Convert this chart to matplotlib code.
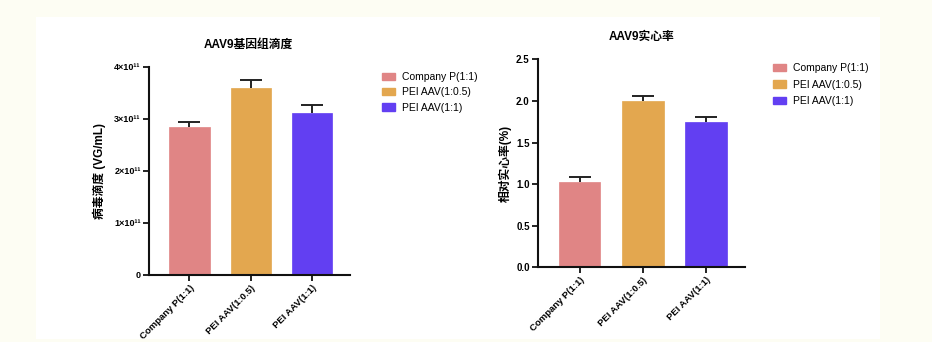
import matplotlib
matplotlib.use("Agg")
import matplotlib.pyplot as plt
from matplotlib.patches import Rectangle, Patch

plt.rcParams['font.family'] = ['Liberation Sans', 'Noto Sans CJK SC', 'DejaVu Sans']

categories = ["Company P(1:1)", "PEI AAV(1:0.5)", "PEI AAV(1:1)"]
colors = ["#e08585", "#e3a74f", "#623ff2"]

titer = [2.85e11, 3.59e11, 3.12e11]
titer_err = [0.10e11, 0.16e11, 0.14e11]
titer_ticks = [0, 1e11, 2e11, 3e11, 4e11]
titer_ticklabels = ["0", "1×10¹¹", "2×10¹¹", "3×10¹¹", "4×10¹¹"]

full = [1.02, 2.00, 1.75]
full_err = [0.07, 0.06, 0.06]
full_ticks = [0.0, 0.5, 1.0, 1.5, 2.0, 2.5]
full_ticklabels = ["0.0", "0.5", "1.0", "1.5", "2.0", "2.5"]

W, H = 932, 342
fig = plt.figure(figsize=(W / 100, H / 100), dpi=100)
fig.patch.set_facecolor("#fdfdf3")
fig.patches.append(Rectangle((36 / W, 3 / H), (880 - 36) / W, (325 - 3) / H,
                             transform=fig.transFigure, facecolor="white",
                             edgecolor="none", zorder=-10))


def panel(rect, vals, errs, ticks, ticklabels, ylim, title, ylabel, legend_xy, title_y,
          ytick_fs, labelpad, labelspacing):
    ax = fig.add_axes(rect)
    ax.set_zorder(5)
    ax.set_facecolor("none")
    x = list(range(len(categories)))
    ax.bar(x, vals, width=0.66, color=colors, edgecolor=colors, linewidth=0.5, zorder=2)
    _, caps, _ = ax.errorbar(x, vals, yerr=[[0] * len(errs), errs], fmt="none",
                             ecolor="#222222", elinewidth=1.4, capsize=8, capthick=1.4,
                             zorder=3)
    caps[0].set_visible(False)
    ax.set_xlim(-0.66, 2.62)
    ax.set_ylim(*ylim)
    ax.set_yticks(ticks)
    ax.set_yticklabels(ticklabels, fontsize=ytick_fs, fontweight="bold")
    ax.set_xticks(x)
    ax.set_xticklabels(categories, rotation=45, ha="right", rotation_mode="anchor",
                       fontsize=6.8, fontweight="bold")
    for s in ["top", "right"]:
        ax.spines[s].set_visible(False)
    for s in ["left", "bottom"]:
        ax.spines[s].set_linewidth(1.5)
        ax.spines[s].set_color("#111111")
    ax.tick_params(axis="both", width=1.3, length=4, color="#111111", pad=2)
    ax.set_ylabel(ylabel, fontsize=8.5, fontweight="bold", labelpad=labelpad)
    fig.text(title[1], title_y, title[0], ha="center", va="center", fontsize=8.5,
             fontweight="bold")
    handles = [Patch(facecolor=c, edgecolor=c) for c in colors]
    fig.legend(handles, categories, loc="upper left", bbox_to_anchor=legend_xy,
               frameon=False, fontsize=7.5, handlelength=1.2, handleheight=0.7,
               handletextpad=0.7, labelspacing=labelspacing, borderaxespad=0)
    return ax


panel([149 / W, (H - 275) / H, (350 - 149) / W, (275 - 67) / H], titer, titer_err,
      titer_ticks, titer_ticklabels, (0, 4e11), ("AAV9基因组滴度", 248 / W),
      "病毒滴度 (VG/mL)", (378 / W, 1 - 68 / H), 1 - 45 / H, 6.5, 6, 0.5)

panel([538 / W, (H - 267.3) / H, (745 - 538) / W, (267.3 - 59.3) / H], full, full_err,
      full_ticks, full_ticklabels, (0, 2.5), ("AAV9实心率", 642 / W),
      "相对实心率(%)", (769 / W, 1 - 59 / H), 1 - 37 / H, 7, 3, 0.62)

fig.savefig("out.png", dpi=100, facecolor=fig.get_facecolor())
